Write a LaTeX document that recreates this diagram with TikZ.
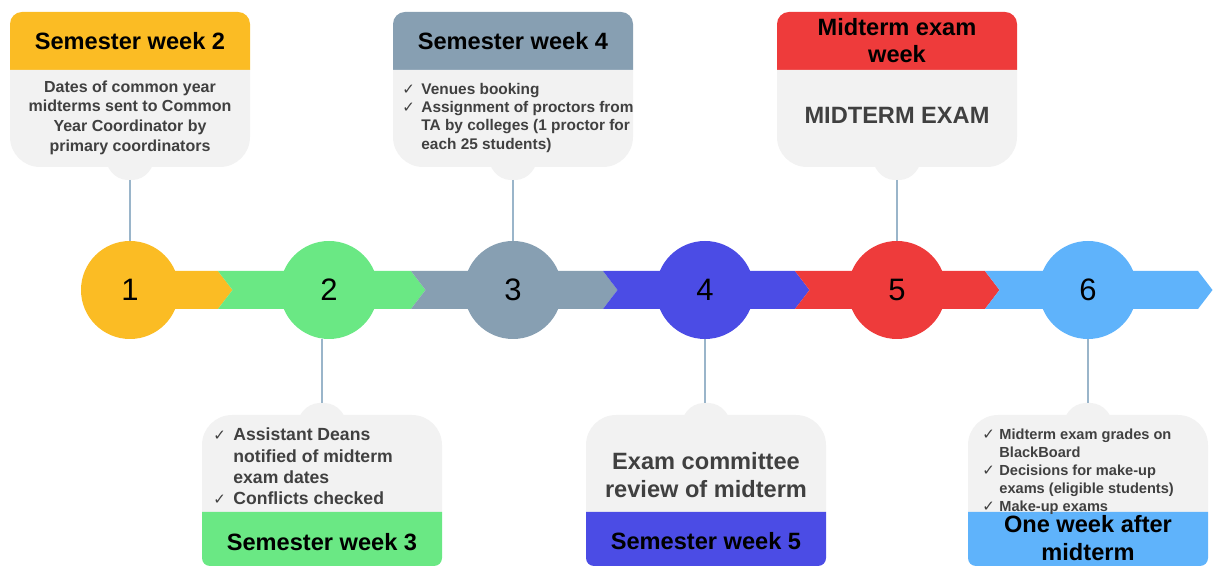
\documentclass[tikz,border=0pt]{standalone}
\usepackage{fontspec}
\setmainfont{Liberation Sans}
\newfontfamily\symfont{DejaVu Sans}
\definecolor{cyel}{HTML}{FBBC24}
\definecolor{cgrn}{HTML}{6AE884}
\definecolor{cgry}{HTML}{879FB2}
\definecolor{cblu}{HTML}{4B4CE5}
\definecolor{cred}{HTML}{EE3B3B}
\definecolor{clbl}{HTML}{5FB3FB}
\definecolor{cardbg}{HTML}{F2F2F2}
\definecolor{bodytext}{HTML}{404040}
\definecolor{connc}{HTML}{9AB5CA}
\newcommand\hdfont{\fontsize{11.8}{13.5}\selectfont\bfseries}
\newcommand\numfont{\fontsize{15.5}{18}\selectfont}
\newcommand\ck{{\symfont\fontsize{7.5}{7.5}\selectfont ✓}}
\newcommand\segm[3]{\fill[#3] (#1,-271) -- (#2,-271) -- (#2+14.5,-290) -- (#2,-309) -- (#1,-309) -- (#1+14.5,-290) -- cycle;}
\newcommand\topcard[2]{%
 \fill[#2] (#1-120,-70) -- (#1-120,-24) arc[start angle=180,end angle=90,radius=12] -- (#1+108,-12) arc[start angle=90,end angle=0,radius=12] -- (#1+120,-70) -- cycle;
 \fill[cardbg] (#1-120,-70) -- (#1-120,-137) arc[start angle=180,end angle=270,radius=30] -- (#1+90,-167) arc[start angle=270,end angle=360,radius=30] -- (#1+120,-70) -- cycle;
 \fill[cardbg,rounded corners=5pt] (#1-27,-160) -- (#1-13,-180) -- (#1+13,-180) -- (#1+27,-160) -- cycle;
}
\newcommand\botcard[2]{%
 \fill[cardbg] (#1-120,-512) -- (#1-120,-445) arc[start angle=180,end angle=90,radius=30] -- (#1+90,-415) arc[start angle=90,end angle=0,radius=30] -- (#1+120,-512) -- cycle;
 \fill[cardbg,rounded corners=5pt] (#1-27,-422) -- (#1-13,-403) -- (#1+13,-403) -- (#1+27,-422) -- cycle;
 \fill[#2] (#1-120,-512) -- (#1-120,-558) arc[start angle=180,end angle=270,radius=8] -- (#1+112,-566) arc[start angle=270,end angle=360,radius=8] -- (#1+120,-512) -- cycle;
}
\tikzset{
 circ/.style={circle, minimum size=49pt, inner sep=0pt, font=\numfont, text=black},
 conn/.style={draw=connc, line width=1pt},
 hdtext/.style={font=\hdfont, text=black, align=center, inner sep=0pt},
 bodytxt/.style={text=bodytext, inner sep=0pt},
}
\begin{document}
\begin{tikzpicture}[x=0.5pt,y=0.5pt]
\useasboundingbox (0,0) rectangle (1217,-566);
% band
\segm{130}{218}{cyel}
\segm{218}{411}{cgrn}
\segm{411}{603}{cgry}
\segm{603}{795}{cblu}
\segm{795}{985}{cred}
\segm{985}{1198}{clbl}
% circles
\node[circ, fill=cyel] (c1) at (130,-290) {1};
\node[circ, fill=cgrn] (c2) at (329,-290) {2};
\node[circ, fill=cgry] (c3) at (513,-290) {3};
\node[circ, fill=cblu] (c4) at (705,-290) {4};
\node[circ, fill=cred] (c5) at (897,-290) {5};
\node[circ, fill=clbl] (c6) at (1088,-290) {6};
% cards
\topcard{130}{cyel}
\topcard{513}{cgry}
\topcard{897}{cred}
\botcard{322}{cgrn}
\botcard{706}{cblu}
\botcard{1088}{clbl}
% connector ends
\coordinate (t1) at (130,-180);
\coordinate (t3) at (513,-180);
\coordinate (t5) at (897,-180);
\coordinate (b2) at (322,-403);
\coordinate (b4) at (705,-403);
\coordinate (b6) at (1088,-403);
\draw[conn] (t1) -- (c1.north);
\draw[conn] (t3) -- (c3.north);
\draw[conn] (t5) -- (c5.north);
\draw[conn] (c2.south -| b2) -- (b2);
\draw[conn] (c4.south) -- (b4);
\draw[conn] (c6.south) -- (b6);
% headers
\node[hdtext] (h1) at (130,-41) {Semester week 2};
\node[hdtext] (h3) at (513,-41) {Semester week 4};
\node[hdtext] (h5) at (897,-40.5) {Midterm exam\\week};
\node[hdtext] (h2) at (322,-542) {Semester week 3};
\node[hdtext] (h4) at (706,-541) {Semester week 5};
\node[hdtext, font=\fontsize{11.8}{14}\selectfont\bfseries] (h6) at (1088,-538) {One week after\\midterm};
% bodies
\node[bodytxt, align=center, font=\fontsize{8}{9.85}\selectfont\bfseries] (d1) at (130,-117.5)
 {Dates of common year\\midterms sent to Common\\Year Coordinator by\\primary coordinators};
\node[bodytxt, anchor=west, font=\fontsize{7.7}{9.2}\selectfont\bfseries] (d3) at (402,-118)
 {\begin{tabular}{@{}l@{}l@{}}\makebox[9.5pt][l]{\ck}&Venues booking\\ \ck&Assignment of proctors from\\ &TA by colleges (1 proctor for\\ &each 25 students)\end{tabular}};
\node[bodytxt, font=\hdfont] (d5) at (897,-115) {MIDTERM EXAM};
\node[bodytxt, anchor=west, font=\fontsize{8.8}{10.6}\selectfont\bfseries] (d2) at (213,-468.5)
 {\begin{tabular}{@{}l@{}l@{}}\makebox[10pt][l]{\ck}&Assistant Deans\\ &notified of midterm\\ &exam dates\\ \ck&Conflicts checked\end{tabular}};
\node[bodytxt, align=center, font=\fontsize{11.8}{14}\selectfont\bfseries] (d4) at (706,-475)
 {Exam committee\\review of midterm};
\node[bodytxt, anchor=west, font=\fontsize{7.3}{9}\selectfont\bfseries] (d6) at (982,-472)
 {\begin{tabular}{@{}l@{}l@{}}\makebox[8.5pt][l]{\ck}&Midterm exam grades on\\ &BlackBoard\\ \ck&Decisions for make-up\\ &exams (eligible students)\\ \ck&Make-up exams\end{tabular}};
\end{tikzpicture}
\end{document}
